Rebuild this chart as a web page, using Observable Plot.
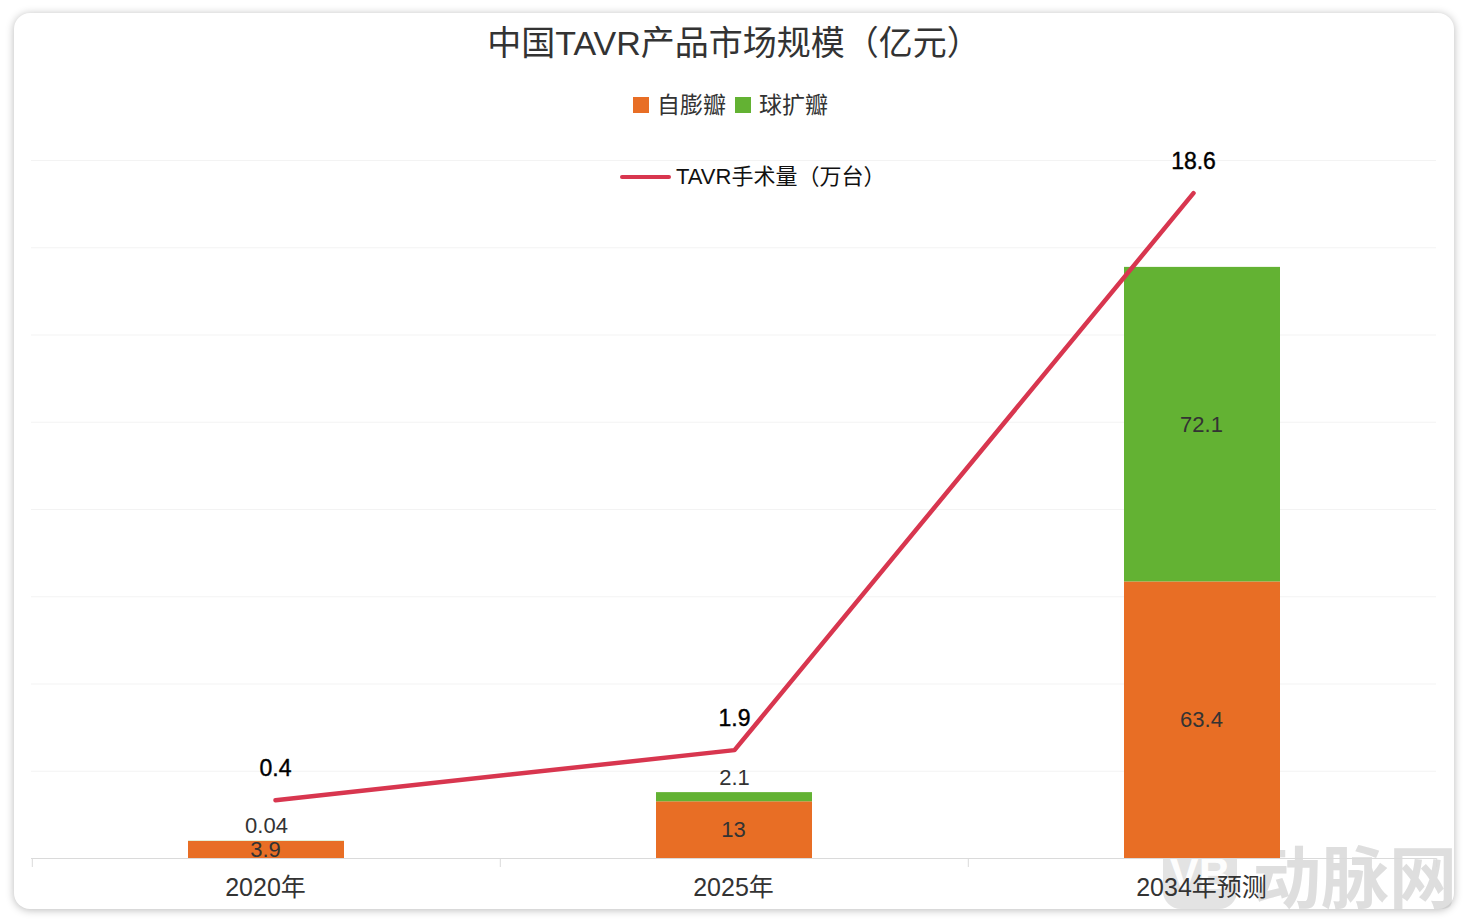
<!DOCTYPE html>
<html>
<head>
<meta charset="utf-8">
<script src="https://cdn.jsdelivr.net/npm/d3@7"></script>
<script src="https://cdn.jsdelivr.net/npm/@observablehq/plot@0.6"></script>
<style>
  html, body { margin: 0; padding: 0; background: #fff; }
  body { width: 1468px; height: 924px; overflow: hidden; position: relative;
         font-family: "Liberation Sans", "Noto Sans CJK SC", sans-serif; }
  #card { position: absolute; left: 14px; top: 13px; width: 1440px; height: 896px;
          border-radius: 16px; background: #fff; box-shadow: 0 1px 9px rgba(0,0,0,0.28); }
  .layer { position: absolute; left: 0; top: 0; }
  #title { position: absolute; left: 0; top: 21px; width: 1468px; text-align: center;
           font-size: 34px; line-height: 44px; color: #333; }
  #legend1 { position: absolute; left: 633px; top: 90px; display: flex; align-items: center;
             font-size: 23px; color: #333; line-height: 30px; }
  #legend1 .sw { width: 16px; height: 16px; display: inline-block; }
  #legend1 .lab { margin-left: 8px; margin-right: 9px; }
  #legend2 { position: absolute; left: 620px; top: 163px; display: flex; align-items: center;
             font-size: 22px; color: #111; line-height: 28px; }
  #legend2 .ln { width: 51px; height: 4px; border-radius: 2px; display: inline-block; margin-right: 5px; }
  #wm { position: absolute; left: 1163px; top: 838px; display: flex; align-items: center; }
  #wm .icon { width: 74px; height: 70px; border-radius: 18px; background: rgba(200,200,200,0.5);
              color: rgba(255,255,255,0.95); font-weight: bold; font-size: 44px; text-align: center; line-height: 70px;
              font-family: "Liberation Sans", sans-serif; }
  #wm .txt { margin-left: 16px; font-size: 68px; line-height: 72px; font-weight: bold;
             color: rgba(190,190,190,0.5); font-family: "Noto Sans CJK SC", sans-serif; }
</style>
</head>
<body>
<div id="card"></div>
<div id="wm"><div class="icon">VB</div><div class="txt">动脉网</div></div>
<div id="main" class="layer"></div>
<div id="over" class="layer"></div>
<div id="title">中国TAVR产品市场规模（亿元）</div>
<div id="legend1"></div>
<div id="legend2"></div>
<script>
// ---- data ----
const categories = ["2020年", "2025年", "2034年预测"];
const seriesNames = ["自膨瓣", "球扩瓣"];
const selfExpanding = [3.9, 13, 63.4];        // 自膨瓣 (亿元)
const balloonExpandable = [0.04, 2.1, 72.1];  // 球扩瓣 (亿元)
const procedures = [0.4, 1.9, 18.6];          // TAVR手术量 (万台)
const lineName = "TAVR手术量（万台）";
const gridTicks = [0, 20, 40, 60, 80, 100, 120, 140, 160];

const barColors = ["#E86E25", "#63B233"];
const lineColor = "#D8364F";
const FONT = '"Liberation Sans", "Noto Sans CJK SC", sans-serif';

// ---- legends (HTML) ----
const l1 = document.getElementById("legend1");
seriesNames.forEach((n, i) => {
  const sw = document.createElement("span"); sw.className = "sw"; sw.style.background = barColors[i];
  const lab = document.createElement("span"); lab.className = "lab"; lab.textContent = n;
  l1.appendChild(sw); l1.appendChild(lab);
});
const l2 = document.getElementById("legend2");
const ln = document.createElement("span"); ln.className = "ln"; ln.style.background = lineColor;
const lt = document.createElement("span"); lt.textContent = lineName;
l2.appendChild(ln); l2.appendChild(lt);

// ---- stacked segments ----
const segs = [];
categories.forEach((c, i) => {
  const a = selfExpanding[i], b = balloonExpandable[i];
  segs.push({cat: c, type: seriesNames[0], y1: 0, y2: a, value: a});
  segs.push({cat: c, type: seriesNames[1], y1: a, y2: a + b, value: b});
});
const inside = segs.filter(d => d.type === seriesNames[0] || d.value > 10);
const above = segs.filter(d => !(d.type === seriesNames[0] || d.value > 10));

const W = 1468, H = 924;
const main = Plot.plot({
  width: W, height: H,
  marginLeft: 31, marginRight: 32, marginTop: 160, marginBottom: 66,
  style: {background: "transparent", fontFamily: FONT, overflow: "visible"},
  x: {type: "band", domain: categories, padding: 0},
  y: {domain: [0, 160], axis: null},
  color: {domain: seriesNames, range: barColors},
  marks: [
    Plot.ruleY(gridTicks.slice(1), {stroke: "#f3f3f3", strokeWidth: 1}),
    Plot.barY(segs, {x: "cat", y1: "y1", y2: "y2", fill: "type", insetLeft: 156, insetRight: 156}),
    Plot.ruleY([0], {stroke: "#dadada", strokeWidth: 1}),
    Plot.ruleX(categories, {x: d => d, y1: 0, y2: 0, dx: -234.2, insetBottom: -9, stroke: "#dadada"}),
    Plot.ruleX(categories.slice(-1), {x: d => d, y1: 0, y2: 0, dx: 234.2, insetBottom: -9, stroke: "#dadada"}),
    Plot.text(inside, {x: "cat", y: d => (d.y1 + d.y2) / 2, text: d => String(d.value),
      fontSize: 22, fill: "#333", lineAnchor: "middle", dx: -1}),
    Plot.text(above, {x: "cat", y: "y2", text: d => String(d.value), dy: -15,
      fontSize: 22, fill: "#333", lineAnchor: "middle"}),
    Plot.axisX({tickSize: 0, tickPadding: 20, fontSize: 25, fill: "#333", label: null, dx: -1})
  ]
});
document.getElementById("main").appendChild(main);

// ---- line overlay (secondary scale) ----
const lineData = categories.map((c, i) => ({cat: c, v: procedures[i]}));
const over = Plot.plot({
  width: W, height: H,
  marginLeft: 275, marginRight: 275, marginTop: 146, marginBottom: 111,
  style: {background: "transparent", fontFamily: FONT, overflow: "visible"},
  x: {type: "point", domain: categories, padding: 0, axis: null},
  y: {domain: [0, 20], axis: null},
  marks: [
    Plot.line(lineData, {x: "cat", y: "v", stroke: lineColor, strokeWidth: 4.5, strokeLinecap: "round"}),
    Plot.text(lineData, {x: "cat", y: "v", text: d => String(d.v), dy: -32,
      fontSize: 23, fill: "#000", lineAnchor: "middle", stroke: "#000", strokeWidth: 0.4})
  ]
});
document.getElementById("over").appendChild(over);
</script>
</body>
</html>
